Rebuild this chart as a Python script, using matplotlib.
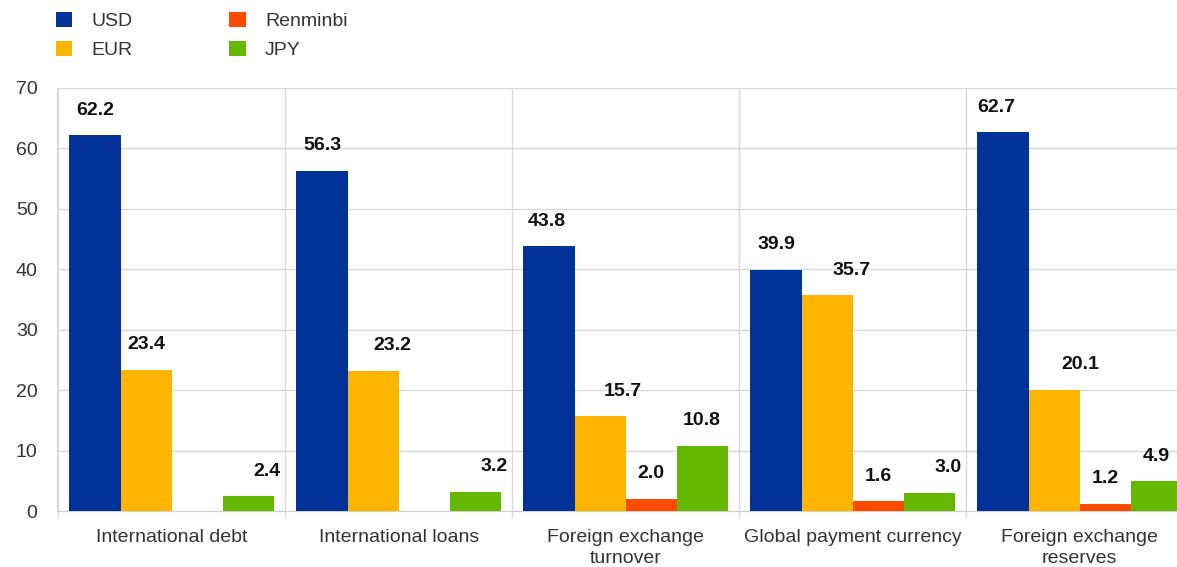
import numpy as np
import matplotlib
matplotlib.use("Agg")
import matplotlib.pyplot as plt
from matplotlib.patches import Patch

plt.rcParams['font.family'] = ['Liberation Sans', 'DejaVu Sans']

categories = ["International debt", "International loans", "Foreign exchange\nturnover",
              "Global payment currency", "Foreign exchange\nreserves"]
series_names = ["USD", "EUR", "Renminbi", "JPY"]
usd = [62.2, 56.3, 43.8, 39.9, 62.7]
eur = [23.4, 23.2, 15.7, 35.7, 20.1]
renminbi = [np.nan, np.nan, 2.0, 1.6, 1.2]
jpy = [2.4, 3.2, 10.8, 3.0, 4.9]
yticks = [0, 10, 20, 30, 40, 50, 60, 70]

colors = ["#003299", "#FFB400", "#FF4B00", "#65B800"]
# horizontal label nudges (pixels) per series/category - styling only
label_dx = [[0, 0, -2, 0, -7],
            [0, 19, 23, 24, 26],
            [0, 0, 0, 0, 0],
            [19, 19, 0, 19, 0]]

W, H, DPI = 1177, 567, 100
fig = plt.figure(figsize=(W / DPI, H / DPI), dpi=DPI)
ax = fig.add_axes([57 / W, 56 / H, 1 - 57 / W, (511 - 88) / H])

x = np.arange(len(categories))
bw = 0.225
series = [usd, eur, renminbi, jpy]
for i, (vals, col) in enumerate(zip(series, colors)):
    pos = x + (i - 1.5) * bw
    ax.bar(pos, vals, width=bw, color=col, zorder=3, linewidth=0)
    for j, (p, v) in enumerate(zip(pos, vals)):
        if np.isnan(v):
            continue
        ax.annotate(f"{v:.1f}", xy=(p, v), xytext=(label_dx[i][j] * 0.72, 18),
                    textcoords="offset points", ha="center", va="center",
                    fontsize=14, fontweight="bold", color="#111111", zorder=4)

ax.set_yticks(yticks)
ax.set_xticks(x)
ax.set_xticklabels(categories, fontsize=14, color="#333333", linespacing=1.32)
ax.set_xticks(np.arange(len(categories) + 1) - 0.5, minor=True)
ax.set_ylim(0, 70)
ax.set_xlim(-0.505, -0.505 + (W - 57) / 227)
ax.tick_params(axis="x", which="major", length=0, pad=13)
ax.tick_params(axis="x", which="minor", length=5, color="#D9D9D9", width=1)
ax.tick_params(axis="y", length=0, pad=14, labelsize=14, labelcolor="#333333")
ax.grid(axis="y", color="#D9D9D9", linewidth=1, zorder=0)
ax.grid(axis="x", which="minor", color="#D9D9D9", linewidth=1, zorder=0)
for s in ["top", "right"]:
    ax.spines[s].set_visible(False)
ax.spines["left"].set_color("#D9D9D9")
ax.spines["bottom"].set_color("#D0D0D0")
ax.set_axisbelow(True)

handles = [Patch(facecolor=c, edgecolor="none", label=n) for c, n in zip(colors, series_names)]
fig.legend(handles=handles, ncol=2, loc="upper left", bbox_to_anchor=(48 / W, 1 - 4 / H),
           frameon=False, fontsize=14, handlelength=0.85, handleheight=0.85,
           handletextpad=1.0, columnspacing=4.95, labelspacing=0.55, borderaxespad=0,
           labelcolor="#333333")

fig.savefig("out.png", dpi=DPI)
